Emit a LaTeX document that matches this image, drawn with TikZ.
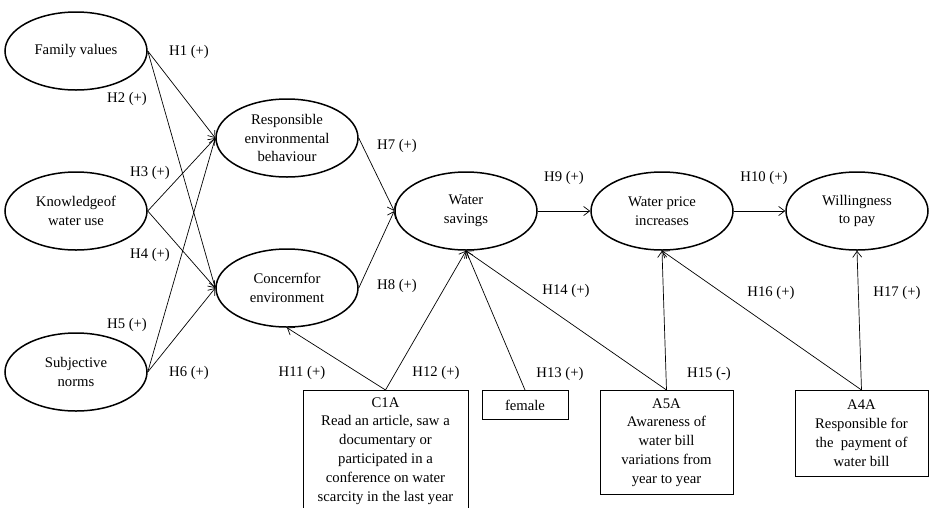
\documentclass[tikz,border=0pt]{standalone}
\usepackage{fontspec}
\setmainfont{Liberation Serif}
\usetikzlibrary{shapes.geometric}
\usetikzlibrary{arrows.meta}

\begin{document}
\begin{tikzpicture}[x=1pt,y=-1pt, font=\fontsize{14.7}{18.8}\selectfont,
    construct/.style={ellipse,draw,line width=1.5pt,minimum width=142pt,minimum height=78pt,inner sep=0pt,align=center},
    itembox/.style={draw,line width=0.8pt,anchor=north,align=center,inner xsep=3pt,inner ysep=3pt},
    >={Straight Barb[length=6pt,width=9pt]}]
      \useasboundingbox (0,0) rectangle (929,507);

      \node[construct] (fam) at (76,51) {Family values};
      \node[construct] (know) at (76,211) {Knowledgeof\\water use};
      \node[construct] (norm) at (76,372) {Subjective\\norms};
      \node[construct] (reb) at (287,138) {Responsible\\environmental\\behaviour};
      \node[construct] (conc) at (287,288) {Concernfor\\environment};
      \node[construct] (save) at (466,211) {Water\\savings};
      \node[construct] (price) at (662,211) {Water price\\increases};
      \node[construct] (wtp) at (857,211) {Willingness\\to pay};

      \node[itembox,minimum width=165pt,inner ysep=7pt] (cia) at (385.5,390)
        {C1A\\Read an article, saw a\\documentary or\\participated in a\\conference on water\\scarcity in the last year};
      \node[itembox,minimum width=86pt,minimum height=29pt] (fem) at (525,390) {female};
      \node[itembox,minimum width=133pt,minimum height=104pt] (asa) at (666.5,390)
        {A5A\\Awareness of\\water bill\\variations from\\year to year};
      \node[itembox,minimum width=133pt,minimum height=86pt] (apa) at (861.5,390)
        {A4A\\Responsible for\\the~ payment of\\water bill};

      \foreach \n/\x/\y/\s in {1/189/52/+, 2/127/99/+, 3/150/173/+, 4/150/255/+, 5/127/325/+, 6/189/373/+,
          7/397/146/+, 8/397/286/+, 9/564/178/+, 10/764/178/+, 11/302/373/+, 12/436/373/+,
          13/560/374/+, 14/566/291/+, 15/709/374/-, 16/771/293/+, 17/897/293/+}
        \node (h\n) at (\x,\y) {H\n\ (\s)};

      \foreach \a/\b in {fam/reb, fam/conc, know/reb, know/conc, norm/reb, norm/conc,
          reb/save, conc/save, save/price, price/wtp}
        \draw[->,line width=0.7pt] (\a.east) -- (\b.west);

      \foreach \a/\b in {cia/conc, cia/save, fem/save, asa/save, asa/price, apa/price, apa/wtp}
        \draw[->,line width=0.7pt] (\a.north) -- (\b.south);
    \end{tikzpicture}
\end{document}
